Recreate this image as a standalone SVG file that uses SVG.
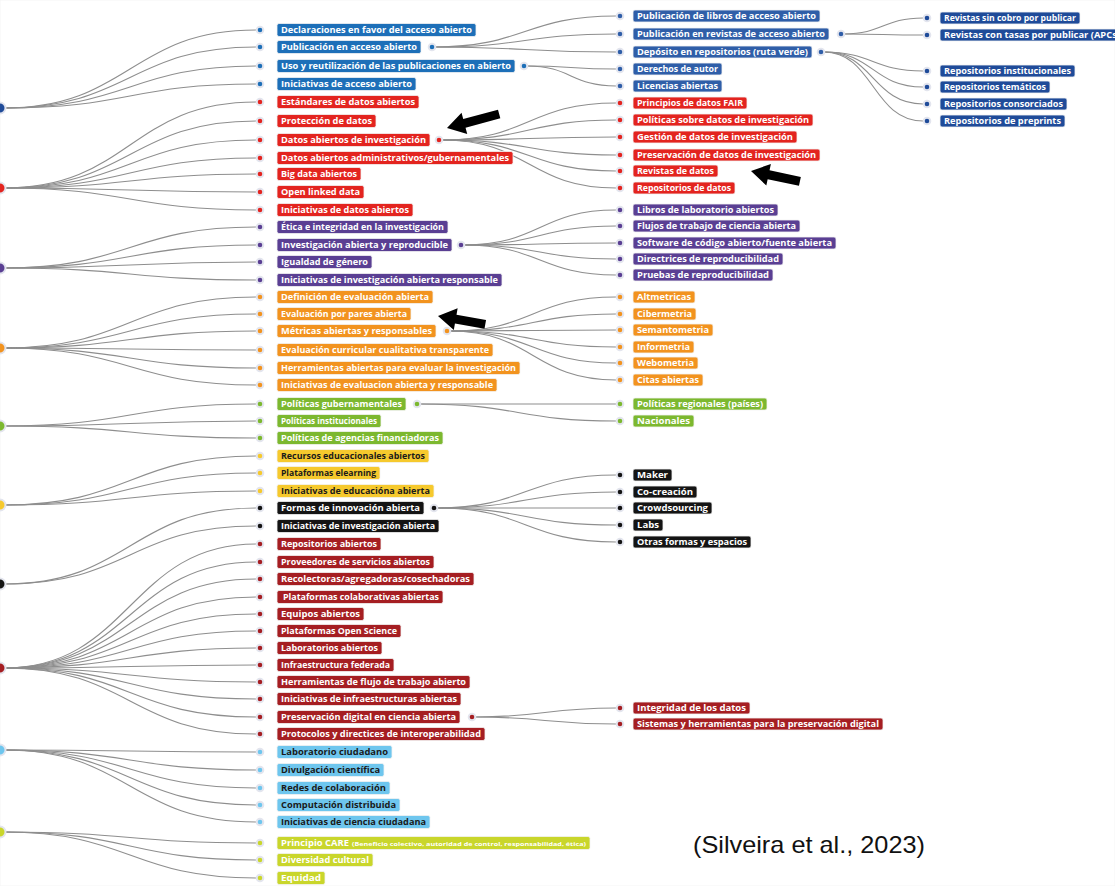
<svg xmlns="http://www.w3.org/2000/svg" width="1115" height="886" viewBox="0 0 1115 886">
<style>
text{font-family:"Open Sans","Liberation Sans",sans-serif;font-size:8.5px;font-weight:700;fill:#fff}
.lk path{fill:none;stroke:#8e8e8e;stroke-width:1.1}
circle{stroke:#e3e5ee;stroke-width:2}
rect{stroke:#f2f2f2;stroke-width:0.8}
.b1 rect,.b1 circle{fill:#1d6fb8}
.b2 rect,.b2 circle{fill:#2f5ea8}
.b3 rect,.b3 circle{fill:#1f4b99}
.rd rect,.rd circle{fill:#e3241f}
.pu rect,.pu circle{fill:#5a3f93}
.or rect,.or circle{fill:#f2931f}
.gr rect,.gr circle{fill:#7cb82f}
.ye rect,.ye circle{fill:#f6c92d}
.bk rect,.bk circle{fill:#141414}
.dr rect,.dr circle{fill:#a51e22}
.lb rect,.lb circle{fill:#6ec6ee}
.yg rect,.yg circle{fill:#c9d62b}
.ye text,.lb text{fill:#1a1a1a}
.cite{font-family:"Liberation Sans",sans-serif;font-size:24px;font-weight:400;fill:#111}
.small{font-size:5.2px}
.arrow{fill:#000}
</style>
<rect x="0" y="0" width="1115" height="886" fill="#fff" stroke="none"/>
<g id="connectors" class="lk">
<path d="M4,108C130,108 130,30 256,30"/><path d="M4,108C130,108 130,47 256,47"/><path d="M4,108C130,108 130,66 256,66"/><path d="M4,108C130,108 130,84 256,84"/>
<path d="M4,188C130,188 130,102 256,102"/><path d="M4,188C130,188 130,121 256,121"/><path d="M4,188C130,188 130,140 256,140"/><path d="M4,188C130,188 130,158 256,158"/><path d="M4,188C130,188 130,174 256,174"/><path d="M4,188C130,188 130,192 256,192"/><path d="M4,188C130,188 130,210 256,210"/>
<path d="M4,268C130,268 130,227 256,227"/><path d="M4,268C130,268 130,245 256,245"/><path d="M4,268C130,268 130,262 256,262"/><path d="M4,268C130,268 130,280 256,280"/>
<path d="M4,348C130,348 130,297 256,297"/><path d="M4,348C130,348 130,314 256,314"/><path d="M4,348C130,348 130,331 256,331"/><path d="M4,348C130,348 130,350 256,350"/><path d="M4,348C130,348 130,368 256,368"/><path d="M4,348C130,348 130,385 256,385"/>
<path d="M4,426C130,426 130,404 256,404"/><path d="M4,426C130,426 130,421 256,421"/><path d="M4,426C130,426 130,438 256,438"/>
<path d="M4,505C130,505 130,456 256,456"/><path d="M4,505C130,505 130,473 256,473"/><path d="M4,505C130,505 130,491 256,491"/>
<path d="M4,584C130,584 130,508 256,508"/><path d="M4,584C130,584 130,526 256,526"/>
<path d="M4,668C130,668 130,544 256,544"/><path d="M4,668C130,668 130,562 256,562"/><path d="M4,668C130,668 130,579 256,579"/><path d="M4,668C130,668 130,597 256,597"/><path d="M4,668C130,668 130,614 256,614"/><path d="M4,668C130,668 130,631 256,631"/><path d="M4,668C130,668 130,648 256,648"/><path d="M4,668C130,668 130,665 256,665"/><path d="M4,668C130,668 130,682 256,682"/><path d="M4,668C130,668 130,699 256,699"/><path d="M4,668C130,668 130,717 256,717"/><path d="M4,668C130,668 130,734 256,734"/>
<path d="M4,750C130,750 130,752 256,752"/><path d="M4,750C130,750 130,770 256,770"/><path d="M4,750C130,750 130,788 256,788"/><path d="M4,750C130,750 130,805 256,805"/><path d="M4,750C130,750 130,822 256,822"/>
<path d="M4,832C130,832 130,843 256,843"/><path d="M4,832C130,832 130,860 256,860"/><path d="M4,832C130,832 130,878 256,878"/>
<path d="M434,47C525,47 525,16 616,16"/><path d="M434,47C525,47 525,34 616,34"/><path d="M434,47C525,47 525,52 616,52"/>
<path d="M527,66C571,66 571,69 616,69"/><path d="M527,66C571,66 571,86 616,86"/>
<path d="M442,140C529,140 529,103 616,103"/><path d="M442,140C529,140 529,120 616,120"/><path d="M442,140C529,140 529,137 616,137"/><path d="M442,140C529,140 529,155 616,155"/><path d="M442,140C529,140 529,171 616,171"/><path d="M442,140C529,140 529,188 616,188"/>
<path d="M464,245C540,245 540,210 616,210"/><path d="M464,245C540,245 540,226 616,226"/><path d="M464,245C540,245 540,243 616,243"/><path d="M464,245C540,245 540,259 616,259"/><path d="M464,245C540,245 540,275 616,275"/>
<path d="M450,331C533,331 533,297 616,297"/><path d="M450,331C533,331 533,314 616,314"/><path d="M450,331C533,331 533,330 616,330"/><path d="M450,331C533,331 533,347 616,347"/><path d="M450,331C533,331 533,363 616,363"/><path d="M450,331C533,331 533,380 616,380"/>
<path d="M420,404C518,404 518,404 616,404"/><path d="M420,404C518,404 518,421 616,421"/>
<path d="M437,508C526,508 526,475 616,475"/><path d="M437,508C526,508 526,492 616,492"/><path d="M437,508C526,508 526,508 616,508"/><path d="M437,508C526,508 526,525 616,525"/><path d="M437,508C526,508 526,542 616,542"/>
<path d="M475,717C545,717 545,708 616,708"/><path d="M475,717C545,717 545,724 616,724"/>
<path d="M844,34C883,34 883,18 923,18"/><path d="M844,34C883,34 883,35 923,35"/>
<path d="M824,52C873,52 873,71 923,71"/><path d="M824,52C873,52 873,87 923,87"/><path d="M824,52C873,52 873,104 923,104"/><path d="M824,52C873,52 873,121 923,121"/>
</g>
<g id="roots">
<g id="root-acceso" class="b3"><circle cx="0" cy="108" r="5.5"/></g>
<g id="root-datos" class="rd"><circle cx="0" cy="188" r="5.5"/></g>
<g id="root-investigacion" class="pu"><circle cx="0" cy="268" r="5.5"/></g>
<g id="root-evaluacion" class="or"><circle cx="0" cy="348" r="5.5"/></g>
<g id="root-politicas" class="gr"><circle cx="0" cy="426" r="5.5"/></g>
<g id="root-educacion" class="ye"><circle cx="0" cy="505" r="5.5"/></g>
<g id="root-innovacion" class="bk"><circle cx="0" cy="584" r="5.5"/></g>
<g id="root-infraestructura" class="dr"><circle cx="0" cy="668" r="5.5"/></g>
<g id="root-ciudadana" class="lb"><circle cx="0" cy="750" r="5.5"/></g>
<g id="root-diversidad" class="yg"><circle cx="0" cy="832" r="5.5"/></g>
</g>
<g id="level1">
<g id="n-declaraciones" class="b1"><circle cx="260" cy="30" r="3.3"/><rect x="277" y="23.5" width="199" height="13" rx="2"/><text x="281" y="33" textLength="191" lengthAdjust="spacingAndGlyphs">Declaraciones en favor del acceso abierto</text></g>
<g id="n-publicacion" class="b1"><circle cx="260" cy="47" r="3.3"/><rect x="277" y="40.5" width="144" height="13" rx="2"/><text x="281" y="50" textLength="136" lengthAdjust="spacingAndGlyphs">Publicación en acceso abierto</text><circle cx="432" cy="47" r="3.3"/></g>
<g id="n-uso" class="b1"><circle cx="260" cy="66" r="3.3"/><rect x="277" y="59.5" width="238" height="13" rx="2"/><text x="281" y="69" textLength="230" lengthAdjust="spacingAndGlyphs">Uso y reutilización de las publicaciones en abierto</text><circle cx="524" cy="66" r="3.3"/></g>
<g id="n-iniciativas-acceso" class="b1"><circle cx="260" cy="84" r="3.3"/><rect x="277" y="77.5" width="139" height="13" rx="2"/><text x="281" y="87" textLength="131" lengthAdjust="spacingAndGlyphs">Iniciativas de acceso abierto</text></g>
<g id="n-estandares" class="rd"><circle cx="260" cy="102" r="3.3"/><rect x="277" y="95.5" width="142" height="13" rx="2"/><text x="281" y="105" textLength="134" lengthAdjust="spacingAndGlyphs">Estándares de datos abiertos</text></g>
<g id="n-proteccion" class="rd"><circle cx="260" cy="121" r="3.3"/><rect x="277" y="114.5" width="99" height="13" rx="2"/><text x="281" y="124" textLength="91" lengthAdjust="spacingAndGlyphs">Protección de datos</text></g>
<g id="n-datos-investigacion" class="rd"><circle cx="260" cy="140" r="3.3"/><rect x="277" y="133.5" width="153" height="13" rx="2"/><text x="281" y="143" textLength="145" lengthAdjust="spacingAndGlyphs">Datos abiertos de investigación</text><circle cx="439" cy="140" r="3.3"/></g>
<g id="n-datos-admin" class="rd"><circle cx="260" cy="158" r="3.3"/><rect x="277" y="151.5" width="236" height="13" rx="2"/><text x="281" y="161" textLength="228" lengthAdjust="spacingAndGlyphs">Datos abiertos administrativos/gubernamentales</text></g>
<g id="n-bigdata" class="rd"><circle cx="260" cy="174" r="3.3"/><rect x="277" y="167.5" width="84" height="13" rx="2"/><text x="281" y="177" textLength="76" lengthAdjust="spacingAndGlyphs">Big data abiertos</text></g>
<g id="n-linked" class="rd"><circle cx="260" cy="192" r="3.3"/><rect x="277" y="185.5" width="87" height="13" rx="2"/><text x="281" y="195" textLength="79" lengthAdjust="spacingAndGlyphs">Open linked data</text></g>
<g id="n-iniciativas-datos" class="rd"><circle cx="260" cy="210" r="3.3"/><rect x="277" y="203.5" width="136" height="13" rx="2"/><text x="281" y="213" textLength="128" lengthAdjust="spacingAndGlyphs">Iniciativas de datos abiertos</text></g>
<g id="n-etica" class="pu"><circle cx="260" cy="227" r="3.3"/><rect x="277" y="220.5" width="171" height="13" rx="2"/><text x="281" y="230" textLength="163" lengthAdjust="spacingAndGlyphs">Ética e integridad en la investigación</text></g>
<g id="n-reproducible" class="pu"><circle cx="260" cy="245" r="3.3"/><rect x="277" y="238.5" width="175" height="13" rx="2"/><text x="281" y="248" textLength="167" lengthAdjust="spacingAndGlyphs">Investigación abierta y reproducible</text><circle cx="461" cy="245" r="3.3"/></g>
<g id="n-igualdad" class="pu"><circle cx="260" cy="262" r="3.3"/><rect x="277" y="255.5" width="95" height="13" rx="2"/><text x="281" y="265" textLength="87" lengthAdjust="spacingAndGlyphs">Igualdad de género</text></g>
<g id="n-iniciativas-responsable" class="pu"><circle cx="260" cy="280" r="3.3"/><rect x="277" y="273.5" width="225" height="13" rx="2"/><text x="281" y="283" textLength="217" lengthAdjust="spacingAndGlyphs">Iniciativas de investigación abierta responsable</text></g>
<g id="n-definicion" class="or"><circle cx="260" cy="297" r="3.3"/><rect x="277" y="290.5" width="156" height="13" rx="2"/><text x="281" y="300" textLength="148" lengthAdjust="spacingAndGlyphs">Definición de evaluación abierta</text></g>
<g id="n-pares" class="or"><circle cx="260" cy="314" r="3.3"/><rect x="277" y="307.5" width="134" height="13" rx="2"/><text x="281" y="317" textLength="126" lengthAdjust="spacingAndGlyphs">Evaluación por pares abierta</text></g>
<g id="n-metricas" class="or"><circle cx="260" cy="331" r="3.3"/><rect x="277" y="324.5" width="159" height="13" rx="2"/><text x="281" y="334" textLength="151" lengthAdjust="spacingAndGlyphs">Métricas abiertas y responsables</text><circle cx="447" cy="331" r="3.3"/></g>
<g id="n-curricular" class="or"><circle cx="260" cy="350" r="3.3"/><rect x="277" y="343.5" width="216" height="13" rx="2"/><text x="281" y="353" textLength="208" lengthAdjust="spacingAndGlyphs">Evaluación curricular cualitativa transparente</text></g>
<g id="n-herramientas-eval" class="or"><circle cx="260" cy="368" r="3.3"/><rect x="277" y="361.5" width="243" height="13" rx="2"/><text x="281" y="371" textLength="235" lengthAdjust="spacingAndGlyphs">Herramientas abiertas para evaluar la investigación</text></g>
<g id="n-iniciativas-eval" class="or"><circle cx="260" cy="385" r="3.3"/><rect x="277" y="378.5" width="220" height="13" rx="2"/><text x="281" y="388" textLength="212" lengthAdjust="spacingAndGlyphs">Iniciativas de evaluacion abierta y responsable</text></g>
<g id="n-gubernamentales" class="gr"><circle cx="260" cy="404" r="3.3"/><rect x="277" y="397.5" width="129" height="13" rx="2"/><text x="281" y="407" textLength="121" lengthAdjust="spacingAndGlyphs">Políticas gubernamentales</text><circle cx="417" cy="404" r="3.3"/></g>
<g id="n-institucionales" class="gr"><circle cx="260" cy="421" r="3.3"/><rect x="277" y="414.5" width="104" height="13" rx="2"/><text x="281" y="424" textLength="96" lengthAdjust="spacingAndGlyphs">Políticas institucionales</text></g>
<g id="n-agencias" class="gr"><circle cx="260" cy="438" r="3.3"/><rect x="277" y="431.5" width="166" height="13" rx="2"/><text x="281" y="441" textLength="158" lengthAdjust="spacingAndGlyphs">Políticas de agencias financiadoras</text></g>
<g id="n-recursos" class="ye"><circle cx="260" cy="456" r="3.3"/><rect x="277" y="449.5" width="152" height="13" rx="2"/><text x="281" y="459" textLength="144" lengthAdjust="spacingAndGlyphs">Recursos educacionales abiertos</text></g>
<g id="n-elearning" class="ye"><circle cx="260" cy="473" r="3.3"/><rect x="277" y="466.5" width="103" height="13" rx="2"/><text x="281" y="476" textLength="95" lengthAdjust="spacingAndGlyphs">Plataformas elearning</text></g>
<g id="n-iniciativas-educacion" class="ye"><circle cx="260" cy="491" r="3.3"/><rect x="277" y="484.5" width="157" height="13" rx="2"/><text x="281" y="494" textLength="149" lengthAdjust="spacingAndGlyphs">Iniciativas de educacióna abierta</text></g>
<g id="n-formas" class="bk"><circle cx="260" cy="508" r="3.3"/><rect x="277" y="501.5" width="147" height="13" rx="2"/><text x="281" y="511" textLength="139" lengthAdjust="spacingAndGlyphs">Formas de innovación abierta</text><circle cx="434" cy="508" r="3.3"/></g>
<g id="n-iniciativas-inv" class="bk"><circle cx="260" cy="526" r="3.3"/><rect x="277" y="519.5" width="162" height="13" rx="2"/><text x="281" y="529" textLength="154" lengthAdjust="spacingAndGlyphs">Iniciativas de investigación abierta</text></g>
<g id="n-repositorios" class="dr"><circle cx="260" cy="544" r="3.3"/><rect x="277" y="537.5" width="104" height="13" rx="2"/><text x="281" y="547" textLength="96" lengthAdjust="spacingAndGlyphs">Repositorios abiertos</text></g>
<g id="n-proveedores" class="dr"><circle cx="260" cy="562" r="3.3"/><rect x="277" y="555.5" width="157" height="13" rx="2"/><text x="281" y="565" textLength="149" lengthAdjust="spacingAndGlyphs">Proveedores de servicios abiertos</text></g>
<g id="n-recolectoras" class="dr"><circle cx="260" cy="579" r="3.3"/><rect x="277" y="572.5" width="197" height="13" rx="2"/><text x="281" y="582" textLength="189" lengthAdjust="spacingAndGlyphs">Recolectoras/agregadoras/cosechadoras</text></g>
<g id="n-colaborativas" class="dr"><circle cx="260" cy="597" r="3.3"/><rect x="277" y="590.5" width="166" height="13" rx="2"/><text x="283" y="600" textLength="156" lengthAdjust="spacingAndGlyphs">Plataformas colaborativas abiertas</text></g>
<g id="n-equipos" class="dr"><circle cx="260" cy="614" r="3.3"/><rect x="277" y="607.5" width="87" height="13" rx="2"/><text x="281" y="617" textLength="79" lengthAdjust="spacingAndGlyphs">Equipos abiertos</text></g>
<g id="n-openscience" class="dr"><circle cx="260" cy="631" r="3.3"/><rect x="277" y="624.5" width="124" height="13" rx="2"/><text x="281" y="634" textLength="116" lengthAdjust="spacingAndGlyphs">Plataformas Open Science</text></g>
<g id="n-laboratorios" class="dr"><circle cx="260" cy="648" r="3.3"/><rect x="277" y="641.5" width="105" height="13" rx="2"/><text x="281" y="651" textLength="97" lengthAdjust="spacingAndGlyphs">Laboratorios abiertos</text></g>
<g id="n-federada" class="dr"><circle cx="260" cy="665" r="3.3"/><rect x="277" y="658.5" width="117" height="13" rx="2"/><text x="281" y="668" textLength="109" lengthAdjust="spacingAndGlyphs">Infraestructura federada</text></g>
<g id="n-flujo" class="dr"><circle cx="260" cy="682" r="3.3"/><rect x="277" y="675.5" width="193" height="13" rx="2"/><text x="281" y="685" textLength="185" lengthAdjust="spacingAndGlyphs">Herramientas de flujo de trabajo abierto</text></g>
<g id="n-iniciativas-infra" class="dr"><circle cx="260" cy="699" r="3.3"/><rect x="277" y="692.5" width="184" height="13" rx="2"/><text x="281" y="702" textLength="176" lengthAdjust="spacingAndGlyphs">Iniciativas de infraestructuras abiertas</text></g>
<g id="n-preservacion-digital" class="dr"><circle cx="260" cy="717" r="3.3"/><rect x="277" y="710.5" width="183" height="13" rx="2"/><text x="281" y="720" textLength="175" lengthAdjust="spacingAndGlyphs">Preservación digital en ciencia abierta</text><circle cx="472" cy="717" r="3.3"/></g>
<g id="n-protocolos" class="dr"><circle cx="260" cy="734" r="3.3"/><rect x="277" y="727.5" width="208" height="13" rx="2"/><text x="281" y="737" textLength="200" lengthAdjust="spacingAndGlyphs">Protocolos y directices de interoperabilidad</text></g>
<g id="n-laboratorio-ciudadano" class="lb"><circle cx="260" cy="752" r="3.3"/><rect x="277" y="745.5" width="115" height="13" rx="2"/><text x="281" y="755" textLength="107" lengthAdjust="spacingAndGlyphs">Laboratorio ciudadano</text></g>
<g id="n-divulgacion" class="lb"><circle cx="260" cy="770" r="3.3"/><rect x="277" y="763.5" width="107" height="13" rx="2"/><text x="281" y="773" textLength="99" lengthAdjust="spacingAndGlyphs">Divulgación científica</text></g>
<g id="n-redes" class="lb"><circle cx="260" cy="788" r="3.3"/><rect x="277" y="781.5" width="113" height="13" rx="2"/><text x="281" y="791" textLength="105" lengthAdjust="spacingAndGlyphs">Redes de colaboración</text></g>
<g id="n-computacion" class="lb"><circle cx="260" cy="805" r="3.3"/><rect x="277" y="798.5" width="123" height="13" rx="2"/><text x="281" y="808" textLength="115" lengthAdjust="spacingAndGlyphs">Computación distribuida</text></g>
<g id="n-iniciativas-ciudadana" class="lb"><circle cx="260" cy="822" r="3.3"/><rect x="277" y="815.5" width="153" height="13" rx="2"/><text x="281" y="825" textLength="145" lengthAdjust="spacingAndGlyphs">Iniciativas de ciencia ciudadana</text></g>
<g id="n-care" class="yg"><circle cx="260" cy="843" r="3.3"/><rect x="277" y="836.5" width="313" height="13" rx="2"/><text x="281" y="846" textLength="68" lengthAdjust="spacingAndGlyphs">Principio CARE</text><text class="small" x="352" y="845.5" textLength="234" lengthAdjust="spacingAndGlyphs">(Beneficio colectivo, autoridad de control, responsabilidad, ética)</text></g>
<g id="n-diversidad" class="yg"><circle cx="260" cy="860" r="3.3"/><rect x="277" y="853.5" width="96" height="13" rx="2"/><text x="281" y="863" textLength="88" lengthAdjust="spacingAndGlyphs">Diversidad cultural</text></g>
<g id="n-equidad" class="yg"><circle cx="260" cy="878" r="3.3"/><rect x="277" y="871.5" width="48" height="13" rx="2"/><text x="281" y="881" textLength="40" lengthAdjust="spacingAndGlyphs">Equidad</text></g>
</g>
<g id="level2">
<g id="n-libros" class="b2"><circle cx="620" cy="16" r="3.3"/><rect x="633" y="10" width="187" height="12" rx="2"/><text x="637" y="19" textLength="179" lengthAdjust="spacingAndGlyphs">Publicación de libros de acceso abierto</text></g>
<g id="n-revistas" class="b2"><circle cx="620" cy="34" r="3.3"/><rect x="633" y="28" width="196" height="12" rx="2"/><text x="637" y="37" textLength="188" lengthAdjust="spacingAndGlyphs">Publicación en revistas de acceso abierto</text><circle cx="841" cy="34" r="3.3"/></g>
<g id="n-deposito" class="b2"><circle cx="620" cy="52" r="3.3"/><rect x="633" y="46" width="179" height="12" rx="2"/><text x="637" y="55" textLength="171" lengthAdjust="spacingAndGlyphs">Depósito en repositorios (ruta verde)</text><circle cx="821" cy="52" r="3.3"/></g>
<g id="n-derechos" class="b2"><circle cx="620" cy="69" r="3.3"/><rect x="633" y="63" width="89" height="12" rx="2"/><text x="637" y="72" textLength="81" lengthAdjust="spacingAndGlyphs">Derechos de autor</text></g>
<g id="n-licencias" class="b2"><circle cx="620" cy="86" r="3.3"/><rect x="633" y="80" width="89" height="12" rx="2"/><text x="637" y="89" textLength="81" lengthAdjust="spacingAndGlyphs">Licencias abiertas</text></g>
<g id="n-fair" class="rd"><circle cx="620" cy="103" r="3.3"/><rect x="633" y="97" width="114" height="12" rx="2"/><text x="637" y="106" textLength="106" lengthAdjust="spacingAndGlyphs">Principios de datos FAIR</text></g>
<g id="n-politicas-datos" class="rd"><circle cx="620" cy="120" r="3.3"/><rect x="633" y="114" width="180" height="12" rx="2"/><text x="637" y="123" textLength="172" lengthAdjust="spacingAndGlyphs">Políticas sobre datos de investigación</text></g>
<g id="n-gestion" class="rd"><circle cx="620" cy="137" r="3.3"/><rect x="633" y="131" width="164" height="12" rx="2"/><text x="637" y="140" textLength="156" lengthAdjust="spacingAndGlyphs">Gestión de datos de investigación</text></g>
<g id="n-preservacion-datos" class="rd"><circle cx="620" cy="155" r="3.3"/><rect x="633" y="149" width="187" height="12" rx="2"/><text x="637" y="158" textLength="179" lengthAdjust="spacingAndGlyphs">Preservación de datos de investigación</text></g>
<g id="n-revistas-datos" class="rd"><circle cx="620" cy="171" r="3.3"/><rect x="633" y="165" width="85" height="12" rx="2"/><text x="637" y="174" textLength="77" lengthAdjust="spacingAndGlyphs">Revistas de datos</text></g>
<g id="n-repositorios-datos" class="rd"><circle cx="620" cy="188" r="3.3"/><rect x="633" y="182" width="102" height="12" rx="2"/><text x="637" y="191" textLength="94" lengthAdjust="spacingAndGlyphs">Repositorios de datos</text></g>
<g id="n-libros-lab" class="pu"><circle cx="620" cy="210" r="3.3"/><rect x="633" y="204" width="145" height="12" rx="2"/><text x="637" y="213" textLength="137" lengthAdjust="spacingAndGlyphs">Libros de laboratorio abiertos</text></g>
<g id="n-flujos" class="pu"><circle cx="620" cy="226" r="3.3"/><rect x="633" y="220" width="167" height="12" rx="2"/><text x="637" y="229" textLength="159" lengthAdjust="spacingAndGlyphs">Flujos de trabajo de ciencia abierta</text></g>
<g id="n-software" class="pu"><circle cx="620" cy="243" r="3.3"/><rect x="633" y="237" width="203" height="12" rx="2"/><text x="637" y="246" textLength="195" lengthAdjust="spacingAndGlyphs">Software de código abierto/fuente abierta</text></g>
<g id="n-directrices" class="pu"><circle cx="620" cy="259" r="3.3"/><rect x="633" y="253" width="150" height="12" rx="2"/><text x="637" y="262" textLength="142" lengthAdjust="spacingAndGlyphs">Directrices de reproducibilidad</text></g>
<g id="n-pruebas" class="pu"><circle cx="620" cy="275" r="3.3"/><rect x="633" y="269" width="140" height="12" rx="2"/><text x="637" y="278" textLength="132" lengthAdjust="spacingAndGlyphs">Pruebas de reproducibilidad</text></g>
<g id="n-altmetricas" class="or"><circle cx="620" cy="297" r="3.3"/><rect x="633" y="291" width="62" height="12" rx="2"/><text x="637" y="300" textLength="54" lengthAdjust="spacingAndGlyphs">Altmetricas</text></g>
<g id="n-cibermetria" class="or"><circle cx="620" cy="314" r="3.3"/><rect x="633" y="308" width="63" height="12" rx="2"/><text x="637" y="317" textLength="55" lengthAdjust="spacingAndGlyphs">Cibermetria</text></g>
<g id="n-semantometria" class="or"><circle cx="620" cy="330" r="3.3"/><rect x="633" y="324" width="80" height="12" rx="2"/><text x="637" y="333" textLength="72" lengthAdjust="spacingAndGlyphs">Semantometria</text></g>
<g id="n-informetria" class="or"><circle cx="620" cy="347" r="3.3"/><rect x="633" y="341" width="61" height="12" rx="2"/><text x="637" y="350" textLength="53" lengthAdjust="spacingAndGlyphs">Informetria</text></g>
<g id="n-webometria" class="or"><circle cx="620" cy="363" r="3.3"/><rect x="633" y="357" width="65" height="12" rx="2"/><text x="637" y="366" textLength="57" lengthAdjust="spacingAndGlyphs">Webometria</text></g>
<g id="n-citas" class="or"><circle cx="620" cy="380" r="3.3"/><rect x="633" y="374" width="70" height="12" rx="2"/><text x="637" y="383" textLength="62" lengthAdjust="spacingAndGlyphs">Citas abiertas</text></g>
<g id="n-regionales" class="gr"><circle cx="620" cy="404" r="3.3"/><rect x="633" y="398" width="134" height="12" rx="2"/><text x="637" y="407" textLength="126" lengthAdjust="spacingAndGlyphs">Políticas regionales (países)</text></g>
<g id="n-nacionales" class="gr"><circle cx="620" cy="421" r="3.3"/><rect x="633" y="415" width="61" height="12" rx="2"/><text x="637" y="424" textLength="53" lengthAdjust="spacingAndGlyphs">Nacionales</text></g>
<g id="n-maker" class="bk"><circle cx="620" cy="475" r="3.3"/><rect x="633" y="469" width="39" height="12" rx="2"/><text x="637" y="478" textLength="31" lengthAdjust="spacingAndGlyphs">Maker</text></g>
<g id="n-cocreacion" class="bk"><circle cx="620" cy="492" r="3.3"/><rect x="633" y="486" width="64" height="12" rx="2"/><text x="637" y="495" textLength="56" lengthAdjust="spacingAndGlyphs">Co-creación</text></g>
<g id="n-crowdsourcing" class="bk"><circle cx="620" cy="508" r="3.3"/><rect x="633" y="502" width="79" height="12" rx="2"/><text x="637" y="511" textLength="71" lengthAdjust="spacingAndGlyphs">Crowdsourcing</text></g>
<g id="n-labs" class="bk"><circle cx="620" cy="525" r="3.3"/><rect x="633" y="519" width="30" height="12" rx="2"/><text x="637" y="528" textLength="22" lengthAdjust="spacingAndGlyphs">Labs</text></g>
<g id="n-otras" class="bk"><circle cx="620" cy="542" r="3.3"/><rect x="633" y="536" width="118" height="12" rx="2"/><text x="637" y="545" textLength="110" lengthAdjust="spacingAndGlyphs">Otras formas y espacios</text></g>
<g id="n-integridad" class="dr"><circle cx="620" cy="708" r="3.3"/><rect x="633" y="702" width="117" height="12" rx="2"/><text x="637" y="711" textLength="109" lengthAdjust="spacingAndGlyphs">Integridad de los datos</text></g>
<g id="n-sistemas" class="dr"><circle cx="620" cy="724" r="3.3"/><rect x="633" y="718" width="250" height="12" rx="2"/><text x="637" y="727" textLength="242" lengthAdjust="spacingAndGlyphs">Sistemas y herramientas para la preservación digital</text></g>
</g>
<g id="level3">
<g id="n-sin-cobro" class="b3"><circle cx="927" cy="18" r="3.3"/><rect x="940" y="12" width="140" height="12" rx="2"/><text x="944" y="21" textLength="132" lengthAdjust="spacingAndGlyphs">Revistas sin cobro por publicar</text></g>
<g id="n-con-tasas" class="b3"><circle cx="927" cy="35" r="3.3"/><rect x="940" y="29" width="182" height="12" rx="2"/><text x="944" y="38" textLength="176" lengthAdjust="spacingAndGlyphs">Revistas con tasas por publicar (APCs)</text></g>
<g id="n-institucionales-rep" class="b3"><circle cx="927" cy="71" r="3.3"/><rect x="940" y="65" width="135" height="12" rx="2"/><text x="944" y="74" textLength="127" lengthAdjust="spacingAndGlyphs">Repositorios institucionales</text></g>
<g id="n-tematicos" class="b3"><circle cx="927" cy="87" r="3.3"/><rect x="940" y="81" width="110" height="12" rx="2"/><text x="944" y="90" textLength="102" lengthAdjust="spacingAndGlyphs">Repositorios temáticos</text></g>
<g id="n-consorciados" class="b3"><circle cx="927" cy="104" r="3.3"/><rect x="940" y="98" width="127" height="12" rx="2"/><text x="944" y="107" textLength="119" lengthAdjust="spacingAndGlyphs">Repositorios consorciados</text></g>
<g id="n-preprints" class="b3"><circle cx="927" cy="121" r="3.3"/><rect x="940" y="115" width="125" height="12" rx="2"/><text x="944" y="124" textLength="117" lengthAdjust="spacingAndGlyphs">Repositorios de preprints</text></g>
</g>
<g id="arrows" class="arrow">
<polygon transform="translate(447,128) rotate(-15)" points="0,0 18,-11 18,-4.5 54,-4.5 54,4.5 18,4.5 18,11"/>
<polygon transform="translate(751,171) rotate(12)" points="0,0 18,-11 18,-4.5 50,-4.5 50,4.5 18,4.5 18,11"/>
<polygon transform="translate(438,316) rotate(10)" points="0,0 18,-11 18,-4.5 48,-4.5 48,4.5 18,4.5 18,11"/>
</g>
<text class="cite" x="693" y="853" textLength="232" lengthAdjust="spacingAndGlyphs">(Silveira et al., 2023)</text>
</svg>
